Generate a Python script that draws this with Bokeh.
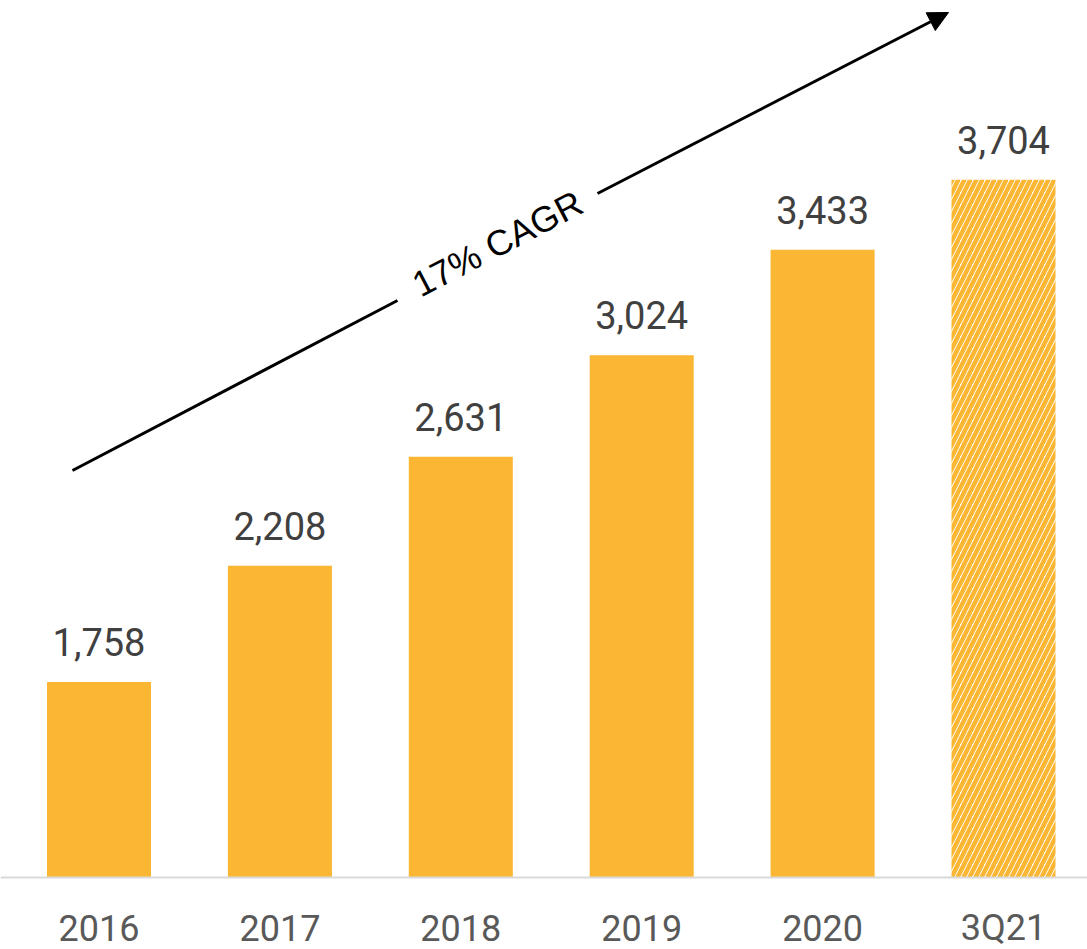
from bokeh.plotting import figure
from bokeh.models import Range1d, ColumnDataSource, Arrow, NormalHead, Label
from bokeh.embed import file_html
from bokeh.resources import INLINE
from bokeh.core.properties import value
import math

categories = ["2016", "2017", "2018", "2019", "2020", "3Q21"]
values = [1758, 2208, 2631, 3024, 3433, 3704]
hatched = [False, False, False, False, False, True]
labels = ["1,758", "2,208", "2,631", "3,024", "3,433", "3,704"]

BAR = "#FBB633"
W, H = 1087, 949
BASE = 1000
PX_PER_UNIT = 0.258
BASE_PX = 877
STEP = 180.9
XS0 = 0.5 - 98.5 / STEP
Y0 = BASE - (H - BASE_PX) / PX_PER_UNIT
Y1 = BASE + BASE_PX / PX_PER_UNIT

p = figure(width=W, height=H, output_backend="svg", toolbar_location=None,
           x_range=Range1d(XS0, XS0 + W / STEP), y_range=Range1d(Y0, Y1),
           min_border=0, x_axis_location=None, y_axis_location=None)
p.outline_line_color = None
p.grid.visible = False
p.background_fill_color = "white"
p.border_fill_color = "white"

xs = [i + 0.5 for i in range(len(categories))]
solid = ColumnDataSource(dict(x=[x for x, h in zip(xs, hatched) if not h],
                              top=[v for v, h in zip(values, hatched) if not h]))
hat = ColumnDataSource(dict(x=[x for x, h in zip(xs, hatched) if h],
                            top=[v for v, h in zip(values, hatched) if h]))
p.vbar(x="x", top="top", bottom=BASE, width=0.575, source=solid, fill_color=BAR, line_color=None)
p.vbar(x="x", top="top", bottom=BASE, width=0.575, source=hat, fill_color="white", line_color=None,
       hatch_pattern="right_diagonal_line", hatch_color=BAR, hatch_scale=12, hatch_weight=4.5)

# baseline (category axis line)
p.line([XS0, XS0 + W / STEP], [BASE, BASE], line_color="#D9D9D9", line_width=2)

lab = ColumnDataSource(dict(x=xs, y=values, t=labels))
p.text(x="x", y="y", text="t", source=lab, text_align="center", text_baseline="alphabetic",
       y_offset=-40, text_font=value("Roboto"), text_font_size="38px", text_color="#404040")

cat = ColumnDataSource(dict(x=xs, y=[BASE] * len(xs), t=categories))
p.text(x="x", y="y", text="t", source=cat, text_align="center", text_baseline="alphabetic",
       y_offset=50, text_font=value("Roboto"), text_font_size="36px", text_color="#595959")

# CAGR arrow (annotation in data coordinates)
def to_x(px):
    return XS0 + px / STEP

def to_y(py):
    return BASE + (BASE_PX - py) / PX_PER_UNIT

p.line([to_x(72), to_x(397)], [to_y(470), to_y(300)], line_color="black", line_width=3)
p.add_layout(Arrow(x_start=to_x(597), y_start=to_y(193), x_end=to_x(948), y_end=to_y(12),
                   line_color="black", line_width=3,
                   end=NormalHead(size=20, fill_color="black", line_color="black")))
ang = math.atan2(458, 876)
p.add_layout(Label(x=to_x(497), y=to_y(243), text="17% CAGR", angle=ang,
                   text_align="center", text_baseline="middle",
                   text_font="Liberation Sans", text_font_size="36px", text_color="black"))

open("out.html", "w").write(file_html(p, INLINE))
